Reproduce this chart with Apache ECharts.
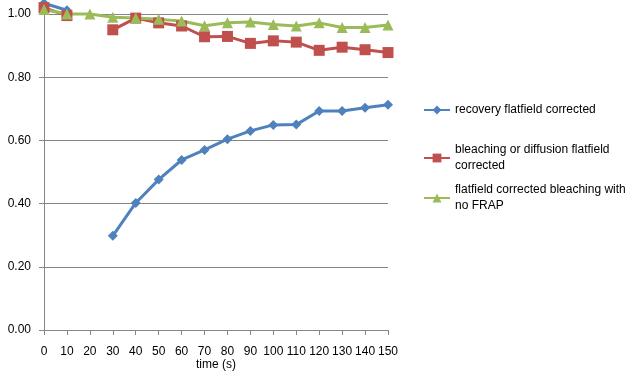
<!DOCTYPE html>
<html>
<head>
<meta charset="utf-8">
<script src="https://cdn.jsdelivr.net/npm/echarts@6/dist/echarts.min.js"></script>
<style>html,body{margin:0;padding:0;background:#fff}#c{width:637px;height:373px}</style>
</head>
<body>
<div id="c"></div>
<script>
const times = ['0','10','20','30','40','50','60','70','80','90','100','110','120','130','140','150'];
const recovery = [1.034, 1.012, null, 0.298, 0.402, 0.476, 0.538, 0.570, 0.604, 0.630, 0.649, 0.650, 0.693, 0.693, 0.703, 0.713];
const bleaching = [1.020, 0.995, null, 0.950, 0.987, 0.972, 0.962, 0.928, 0.929, 0.907, 0.915, 0.911, 0.885, 0.895, 0.887, 0.878];
const noFrap = [1.014, 1.000, 1.000, 0.990, 0.987, 0.983, 0.978, 0.963, 0.972, 0.975, 0.967, 0.962, 0.972, 0.957, 0.957, 0.965];
const yTicks = [0, 0.2, 0.4, 0.6, 0.8, 1.0];
const names = ['recovery flatfield corrected', 'bleaching or diffusion flatfield\ncorrected', 'flatfield corrected bleaching with\nno FRAP'];

const font = 'Liberation Sans, Arial, sans-serif';
const colors = ['#4F81BD', '#C0504D', '#9BBB59'];
const chart = echarts.init(document.getElementById('c'), null, {renderer: 'canvas'});
function legend(i, top) {
  return {
    orient: 'vertical', left: 423, top: top, data: [names[i]], padding: 0,
    itemWidth: 26, itemHeight: 11, itemGap: 0,
    textStyle: {fontFamily: font, fontSize: 12, color: '#000', lineHeight: 16},
    selectedMode: false
  };
}
chart.setOption({
  animation: false,
  color: colors,
  grid: {left: 44, right: 249, top: 14, bottom: 43, containLabel: false, outerBoundsMode: 'none'},
  legend: [legend(0, 102), legend(1, 142), legend(2, 182)],
  xAxis: {
    type: 'category', data: times, boundaryGap: false,
    name: 'time (s)', nameLocation: 'middle', nameGap: 29, nameMoveOverlap: false,
    nameTextStyle: {fontFamily: font, fontSize: 12, color: '#000'},
    axisLine: {lineStyle: {color: '#868686', width: 1}},
    axisTick: {show: true, length: 5, lineStyle: {color: '#868686'}, alignWithLabel: true},
    axisLabel: {fontFamily: font, fontSize: 12, color: '#000', margin: 16, interval: 0}
  },
  yAxis: {
    type: 'value', min: yTicks[0], max: yTicks[yTicks.length - 1], interval: 0.2,
    axisLine: {show: true, lineStyle: {color: '#868686'}},
    axisTick: {show: true, length: 5, lineStyle: {color: '#868686'}},
    axisLabel: {fontFamily: font, fontSize: 12, color: '#000', margin: 13,
      formatter: v => v.toFixed(2)},
    splitLine: {lineStyle: {color: '#868686', width: 1}}
  },
  series: [
    {name: names[0], type: 'line', data: recovery, symbol: 'diamond', symbolSize: 10,
     lineStyle: {width: 3}, connectNulls: false, clip: false},
    {name: names[1], type: 'line', data: bleaching, symbol: 'rect', symbolSize: 11,
     lineStyle: {width: 3}, connectNulls: false, clip: false},
    {name: names[2], type: 'line', data: noFrap, symbol: 'triangle', symbolSize: 11,
     lineStyle: {width: 3}, connectNulls: false, clip: false}
  ]
});
</script>
</body>
</html>
